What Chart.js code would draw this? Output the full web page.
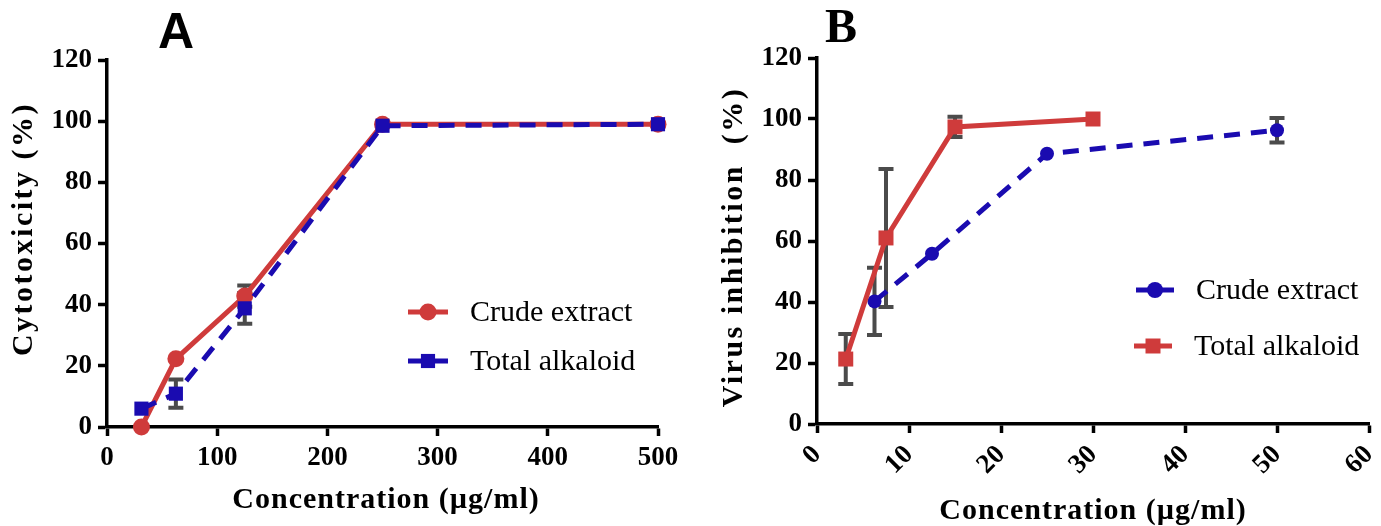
<!DOCTYPE html>
<html><head><meta charset="utf-8">
<script src="https://cdn.jsdelivr.net/npm/chart.js@4/dist/chart.umd.min.js"></script>
<style>
html,body{margin:0;padding:0;background:#fff;}
#wrap{position:relative;width:1381px;height:526px;overflow:hidden;}
.box{position:absolute;top:0;height:526px;}
</style></head><body>
<div id="wrap">
<div class="box" style="left:0;width:690px"><canvas id="chartA"></canvas></div>
<div class="box" style="left:690px;width:691px"><canvas id="chartB"></canvas></div>
</div>
<script>
// ---- Panel A data ----
const concA = [31.25, 62.5, 125, 250, 500];
const crudeA = [0, 22.3, 42.8, 99, 99];
const crudeAErr = [0, 0, 3.5, 0, 0];
const alkA = [6, 10.9, 38.8, 98.5, 99];
const alkAErr = [0, 4.6, 5, 0, 0];
// ---- Panel B data ----
const concBCrude = [6.25, 12.5, 25, 50];
const crudeB = [40.2, 55.8, 88.6, 96.3];
const crudeBErr = [11, 0, 0, 4];
const concBAlk = [3.125, 7.5, 15, 30];
const alkB = [21.3, 61, 97.4, 100];
const alkBErr = [8.2, 22.6, 3.3, 0];
// ---- axes ----
const yTicks = [0, 20, 40, 60, 80, 100, 120];
const xTicksA = [0, 100, 200, 300, 400, 500];
const xTicksB = [0, 10, 20, 30, 40, 50, 60];
const seriesNames = ['Crude extract', 'Total alkaloid'];

const RED = '#cf3b3b', BLUE = '#1a0bb0', GREY = '#4b4b4b';
const pts = (xs, ys) => xs.map((v, i) => ({x: v, y: ys[i]}));

const errorBars = {
  id: 'errorBars',
  beforeDatasetsDraw(chart) {
    const {ctx, scales: {x, y}} = chart;
    ctx.save();
    ctx.strokeStyle = GREY; ctx.lineWidth = 4; ctx.lineCap = 'butt';
    chart.data.datasets.forEach(ds => {
      if (!ds.errors) return;
      ds.data.forEach((p, i) => {
        const e = ds.errors[i]; if (!e) return;
        const px = x.getPixelForValue(p.x);
        const t = y.getPixelForValue(p.y + e), b = y.getPixelForValue(p.y - e);
        ctx.beginPath();
        ctx.moveTo(px, t); ctx.lineTo(px, b);
        ctx.moveTo(px - 7.5, t); ctx.lineTo(px + 7.5, t);
        ctx.moveTo(px - 7.5, b); ctx.lineTo(px + 7.5, b);
        ctx.stroke();
      });
    });
    ctx.restore();
  }
};

function spacedText(ctx, text, x, y, font, spacing, rot, align) {
  ctx.save();
  ctx.font = font;
  ctx.fillStyle = '#000';
  ctx.letterSpacing = spacing + 'px';
  ctx.textAlign = align || 'center';
  ctx.textBaseline = 'alphabetic';
  ctx.translate(x, y);
  if (rot) ctx.rotate(rot);
  ctx.fillText(text, 0, 0);
  ctx.restore();
}

function drawMarker(ctx, style, x, y, r, color) {
  ctx.fillStyle = color;
  ctx.beginPath();
  if (style === 'circle') { ctx.arc(x, y, r, 0, Math.PI * 2); }
  else { const s = r * Math.SQRT1_2; ctx.rect(x - s, y - s, 2 * s, 2 * s); }
  ctx.fill();
}

function makeDecor(cfg) {
  return {
    id: 'decor',
    afterDraw(chart) {
      const ctx = chart.ctx;
      spacedText(ctx, cfg.letter, cfg.letterX, cfg.letterY, cfg.letterFont, 0);
      spacedText(ctx, cfg.yTitle, cfg.yTitleX, cfg.yTitleY, 'bold 30px "Liberation Serif"', cfg.ySpacing, -Math.PI / 2);
      spacedText(ctx, 'Concentration (\u00b5g/ml)', cfg.xTitleX, cfg.xTitleY, 'bold 30px "Liberation Serif"', 1, 0);
      cfg.legend.forEach(item => {
        const ds = chart.data.datasets[item.ds];
        ctx.save();
        ctx.strokeStyle = ds.borderColor; ctx.lineWidth = 5;
        ctx.beginPath(); ctx.moveTo(item.x0, item.y); ctx.lineTo(item.x1, item.y); ctx.stroke();
        drawMarker(ctx, ds.pointStyle, (item.x0 + item.x1) / 2, item.y, item.r || ds.pointRadius, ds.borderColor);
        ctx.restore();
        ctx.save();
        ctx.font = '30px "Liberation Serif"'; ctx.fillStyle = '#000';
        ctx.textAlign = 'left'; ctx.textBaseline = 'middle';
        ctx.fillText(ds.label, item.tx, item.y + 1);
        ctx.restore();
      });
    }
  };
}

function scaleOpts(min, max, ticksArr, yWidth, xHeight, rot) {
  const common = {
    type: 'linear',
    border: {display: true, color: '#000', width: 3.5},
    grid: {display: true, drawOnChartArea: false, drawTicks: true, tickLength: 9, tickWidth: 3.5, tickColor: '#000'},
  };
  return {
    x: Object.assign({}, common, {
      min: min, max: max,
      afterBuildTicks: s => { s.ticks = ticksArr.map(v => ({value: v})); },
      afterFit: s => { s.height = xHeight; s.paddingRight = 0; s.paddingLeft = 0; },
      ticks: {color: '#000', font: {family: 'Liberation Serif', weight: 'bold', size: 27}, padding: 6,
              minRotation: rot, maxRotation: rot, autoSkip: false}
    }),
    y: Object.assign({}, common, {
      min: 0, max: 120,
      afterBuildTicks: s => { s.ticks = yTicks.map(v => ({value: v})); },
      afterFit: s => { s.width = yWidth; },
      ticks: {color: '#000', font: {family: 'Liberation Serif', weight: 'bold', size: 27}, padding: 6}
    })
  };
}

const baseOpts = (padding, scales) => ({
  responsive: true, maintainAspectRatio: false, animation: false,
  devicePixelRatio: 1,
  layout: {padding: padding},
  plugins: {legend: {display: false}, tooltip: {enabled: false}},
  scales: scales,
  elements: {line: {tension: 0}}
});

// ---- Chart A ----
new Chart(document.getElementById('chartA'), {
  type: 'line',
  data: {datasets: [
    {label: seriesNames[1], data: pts(concA, alkA), errors: alkAErr, borderColor: BLUE, backgroundColor: BLUE,
     borderWidth: 5, borderDash: [16, 11], pointStyle: 'rect', pointRadius: 10, pointBorderWidth: 0, clip: false, order: 0},
    {label: seriesNames[0], data: pts(concA, crudeA), errors: crudeAErr, borderColor: RED, backgroundColor: RED,
     borderWidth: 5, pointStyle: 'circle', pointRadius: 8.5, pointBorderWidth: 0, clip: false, order: 1}
  ]},
  options: baseOpts({left: 0, top: 60, right: 32, bottom: 0}, scaleOpts(0, 500, xTicksA, 107, 99, 0)),
  plugins: [errorBars, makeDecor({
    letter: 'A', letterX: 176, letterY: 48, letterFont: 'bold 50px "Liberation Sans"',
    yTitle: 'Cytotoxicity (%)', yTitleX: 32, yTitleY: 229, ySpacing: 2.5,
    xTitleX: 386, xTitleY: 508,
    legend: [{ds: 1, x0: 408, x1: 448, y: 312, tx: 470}, {ds: 0, x0: 408, x1: 448, y: 361, tx: 470}]
  })]
});

// ---- Chart B ----
new Chart(document.getElementById('chartB'), {
  type: 'line',
  data: {datasets: [
    {label: seriesNames[1], data: pts(concBAlk, alkB), errors: alkBErr, borderColor: RED, backgroundColor: RED,
     borderWidth: 5, pointStyle: 'rect', pointRadius: 10.6, pointBorderWidth: 0, clip: false, order: 0},
    {label: seriesNames[0], data: pts(concBCrude, crudeB), errors: crudeBErr, borderColor: BLUE, backgroundColor: BLUE,
     borderWidth: 5, borderDash: [16, 11], pointStyle: 'circle', pointRadius: 7, pointBorderWidth: 0, clip: false, order: 1}
  ]},
  options: baseOpts({left: 0, top: 58, right: 12, bottom: 0}, scaleOpts(0, 60, xTicksB, 127, 102, 45)),
  plugins: [errorBars, makeDecor({
    letter: 'B', letterX: 151, letterY: 42, letterFont: 'bold 48px "Liberation Serif"',
    yTitle: 'Virus inhibition  (%)', yTitleX: 52, yTitleY: 247, ySpacing: 2.5,
    xTitleX: 403, xTitleY: 519,
    legend: [{ds: 1, x0: 446, x1: 484, y: 290, tx: 506, r: 8}, {ds: 0, x0: 444, x1: 482, y: 346, tx: 504}]
  })]
});
</script>
</body></html>
